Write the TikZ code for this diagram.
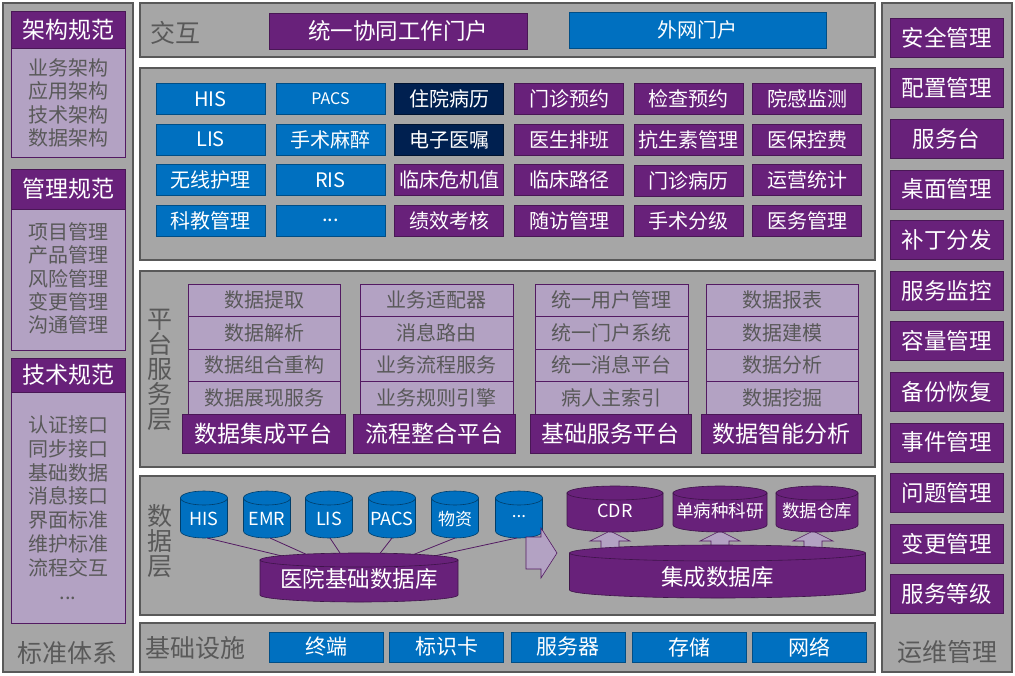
\documentclass[tikz,border=0pt]{standalone}
\usepackage{fontspec}
\setmainfont{Noto Sans CJK SC}
\definecolor{pgray}{HTML}{A6A6A6}
\definecolor{pborder}{HTML}{595959}
\definecolor{ppurple}{HTML}{68217A}
\definecolor{plight}{HTML}{B3A2C3}
\definecolor{pblue}{HTML}{0070C0}
\definecolor{pnavy}{HTML}{002050}
\definecolor{ptext}{HTML}{595959}
\newcommand{\pfs}[1]{\fontsize{#1}{#1}\selectfont}
% cx, top-ellipse y, bottom-arc y, rx, ry, style
\newcommand{\drawcyl}[6]{%
  \filldraw[#6] (#1-#4,#2) -- (#1-#4,#3) arc[start angle=180,end angle=0,x radius=#4,y radius=#5] -- (#1+#4,#2) -- cycle;
  \filldraw[#6] (#1,#2) ellipse[x radius=#4,y radius=#5];}
\newcommand{\uparr}[1]{%
  \filldraw[blockarr] (#1,531) -- ++(20,10) -- ++(-11,0) -- ++(0,11) -- ++(-18,0) -- ++(0,-11) -- ++(-11,0) -- cycle;}
\tikzset{
  panel/.style={draw=pborder, fill=pgray, line width=1.2pt},
  cbox/.style={minimum width=109, minimum height=31, inner sep=0pt, text=white, font=\pfs{20}},
  bluebox/.style={cbox, fill=pblue, draw=pblue!70!black, line width=.6pt},
  navybox/.style={cbox, fill=pnavy, draw=pnavy!60!black, line width=.6pt},
  purpbox/.style={cbox, fill=ppurple, draw=ppurple!70!black, line width=.6pt},
  itembox/.style={fill=plight, draw=ppurple!80!black, line width=.6pt, text=ptext, inner sep=0pt, font=\pfs{20}, minimum height=32.5},
  headbox/.style={fill=ppurple, draw=ppurple!70!black, line width=.6pt, text=white, inner sep=0pt},
  graylabel/.style={text=ptext, font=\pfs{25}, inner sep=0pt},
  vlabel/.style={text=ptext, font=\fontsize{25}{25}\selectfont, inner sep=0pt, align=center},
  listtext/.style={text=ptext, font=\fontsize{20}{23.4}\selectfont, inner sep=0pt, align=center},
  bluecyl/.style={fill=pblue, draw=pblue!55!black, line width=.6pt},
  purpcyl/.style={fill=ppurple, draw=ppurple!60!black, line width=.6pt},
  blockarr/.style={fill=plight, draw=ppurple!80!black, line width=.6pt},
  link/.style={draw=ppurple!80!black, line width=.8pt},
  cyltext/.style={text=white, inner sep=0pt},
  rbox/.style={fill=ppurple, draw=ppurple!70!black, line width=.6pt, text=white, inner sep=0pt, minimum width=113, minimum height=39, font=\pfs{22.5}},
  basebox/.style={fill=pblue, draw=pblue!70!black, line width=.6pt, text=white, inner sep=0pt, minimum width=114, minimum height=30, font=\pfs{21}}
}
\begin{document}
\begin{tikzpicture}[x=1pt,y=-1pt]
\useasboundingbox (0,0) rectangle (1015,675);
\fill[white] (0,0) rectangle (1015,675);

% ---------- panels ----------
\draw[panel] (3,3) rectangle (133,672);
\draw[panel] (140,3) rectangle (875,57);
\draw[panel] (140,68) rectangle (875,260);
\draw[panel] (140,271) rectangle (875,467);
\draw[panel] (140,476) rectangle (875,615);
\draw[panel] (140,623) rectangle (875,672);
\draw[panel] (882,3) rectangle (1012,672);

% ---------- left column ----------
\node[itembox, minimum width=114, minimum height=109] (lb1) at (68,102.5) {};
\node[headbox, minimum width=114, minimum height=37, font=\pfs{23}] (lh1) at (68,29.5) {架构规范};
\node[listtext] (lt1) at (68,103) {业务架构\\应用架构\\技术架构\\数据架构};
\node[itembox, minimum width=114, minimum height=141] (lb2) at (68,279.5) {};
\node[headbox, minimum width=114, minimum height=40, font=\pfs{23}] (lh2) at (68,189) {管理规范};
\node[listtext] (lt2) at (68,278.5) {项目管理\\产品管理\\风险管理\\变更管理\\沟通管理};
\node[itembox, minimum width=114, minimum height=231] (lb3) at (68,507.5) {};
\node[headbox, minimum width=114, minimum height=34, font=\pfs{23}] (lh3) at (68,375) {技术规范};
\node[listtext, font=\fontsize{20}{23.8}\selectfont] (lt3) at (68,507.5) {认证接口\\同步接口\\基础数据\\消息接口\\界面标准\\维护标准\\流程交互\\...};
\node[graylabel] (lstd) at (67,653) {标准体系};

% ---------- top: interaction ----------
\node[graylabel] (ljh) at (175,33) {交互};
\node[purpbox, minimum width=258, minimum height=36, font=\pfs{22.5}] (portal1) at (398,31) {统一协同工作门户};
\node[bluebox, minimum width=257, minimum height=36] (portal2) at (697.5,30) {外网门户};

% ---------- application grid ----------
\node[bluebox] (a11) at (210.5,99) {HIS};
\node[bluebox, font=\pfs{16}] (a12) at (330.5,99) {PACS};
\node[navybox] (a13) at (449,99) {住院病历};
\node[purpbox] (a14) at (569,99) {门诊预约};
\node[purpbox] (a15) at (688.5,99) {检查预约};
\node[purpbox] (a16) at (807,99) {院感监测};
\node[bluebox] (a21) at (210.5,139.5) {LIS};
\node[bluebox] (a22) at (330.5,139.5) {手术麻醉};
\node[navybox] (a23) at (449,139.5) {电子医嘱};
\node[purpbox] (a24) at (569,139.5) {医生排班};
\node[purpbox] (a25) at (688.5,139.5) {抗生素管理};
\node[purpbox] (a26) at (807,139.5) {医保控费};
\node[bluebox] (a31) at (210.5,180) {无线护理};
\node[bluebox] (a32) at (330.5,180) {RIS};
\node[purpbox] (a33) at (449,180) {临床危机值};
\node[purpbox] (a34) at (569,180) {临床路径};
\node[purpbox] (a35) at (688.5,181) {门诊病历};
\node[purpbox] (a36) at (807,180) {运营统计};
\node[bluebox] (a41) at (210.5,220.5) {科教管理};
\node[bluebox] (a42) at (330.5,220.5) {...};
\node[purpbox] (a43) at (449,220.5) {绩效考核};
\node[purpbox] (a44) at (569,220.5) {随访管理};
\node[purpbox] (a45) at (688.5,220.5) {手术分级};
\node[purpbox] (a46) at (807,220.5) {医务管理};

% ---------- platform service layer ----------
\node[vlabel] (lpt) at (160,370) {平\\台\\服\\务\\层};
\foreach \cx/\w/\nm [count=\c] in {264/152/p1, 436.5/153/p2, 611.5/153/p3, 782/152/p4} {
  \foreach \cy [count=\r] in {300.25, 332.75, 365.25, 397.75} {
    \node[itembox, minimum width=\w] (\nm-\r) at (\cx,\cy) {};
  }
}
\node[text=ptext, font=\pfs{20}] (p1t1) at (264,300.25) {数据提取};
\node[text=ptext, font=\pfs{20}] (p1t2) at (264,332.75) {数据解析};
\node[text=ptext, font=\pfs{20}] (p1t3) at (264,365.25) {数据组合重构};
\node[text=ptext, font=\pfs{20}] (p1t4) at (264,397.75) {数据展现服务};
\node[text=ptext, font=\pfs{20}] (p2t1) at (436.5,300.25) {业务适配器};
\node[text=ptext, font=\pfs{20}] (p2t2) at (436.5,332.75) {消息路由};
\node[text=ptext, font=\pfs{20}] (p2t3) at (436.5,365.25) {业务流程服务};
\node[text=ptext, font=\pfs{20}] (p2t4) at (436.5,397.75) {业务规则引擎};
\node[text=ptext, font=\pfs{20}] (p3t1) at (611.5,300.25) {统一用户管理};
\node[text=ptext, font=\pfs{20}] (p3t2) at (611.5,332.75) {统一门户系统};
\node[text=ptext, font=\pfs{20}] (p3t3) at (611.5,365.25) {统一消息平台};
\node[text=ptext, font=\pfs{20}] (p3t4) at (611.5,397.75) {病人主索引};
\node[text=ptext, font=\pfs{20}] (p4t1) at (782,300.25) {数据报表};
\node[text=ptext, font=\pfs{20}] (p4t2) at (782,332.75) {数据建模};
\node[text=ptext, font=\pfs{20}] (p4t3) at (782,365.25) {数据分析};
\node[text=ptext, font=\pfs{20}] (p4t4) at (782,397.75) {数据挖掘};
\node[headbox, minimum width=163, minimum height=39, font=\pfs{23}] (ph1) at (263.5,433.5) {数据集成平台};
\node[headbox, minimum width=162, minimum height=39, font=\pfs{23}] (ph2) at (434,433.5) {流程整合平台};
\node[headbox, minimum width=161, minimum height=39, font=\pfs{23}] (ph3) at (610.5,433.5) {基础服务平台};
\node[headbox, minimum width=160, minimum height=39, font=\pfs{23}] (ph4) at (781,433.5) {数据智能分析};

% ---------- data layer ----------
\node[vlabel] (lsj) at (160,541) {数\\据\\层};
\drawcyl{204}{498}{531}{23.5}{7}{bluecyl}
\drawcyl{267}{498}{531}{23.5}{7}{bluecyl}
\drawcyl{329}{498}{531}{23.5}{7}{bluecyl}
\drawcyl{392}{498}{531}{23.5}{7}{bluecyl}
\drawcyl{455}{498}{531}{23.5}{7}{bluecyl}
\drawcyl{519}{498}{531}{23.5}{7}{bluecyl}
\node[cyltext, font=\pfs{18}] (c1) at (204,519) {HIS};
\node[cyltext, font=\pfs{18}] (c2) at (267,519) {EMR};
\node[cyltext, font=\pfs{18}] (c3) at (329,519) {LIS};
\node[cyltext, font=\pfs{18}] (c4) at (392,519) {PACS};
\node[cyltext, font=\pfs{17}] (c5) at (455,519) {物资};
\node[cyltext, font=\pfs{17}] (c6) at (519,517) {...};
\coordinate (c1b) at (207,538);
\coordinate (c2b) at (270,538);
\coordinate (c3b) at (330,538);
\coordinate (c4b) at (392,538);
\coordinate (c5b) at (455,538);
\coordinate (c6b) at (517,538);
\coordinate (d1) at (282,556);
\coordinate (d2) at (310,556);
\coordinate (d3) at (342,556);
\coordinate (d4) at (378,556);
\coordinate (d5) at (410,556);
\coordinate (d6) at (434,556);
\draw[link] (c1b) -- (d1);
\draw[link] (c2b) -- (d2);
\draw[link] (c3b) -- (d3);
\draw[link] (c4b) -- (d4);
\draw[link] (c5b) -- (d5);
\draw[link] (c6b) -- (d6);
\drawcyl{359}{560}{595}{99}{7}{purpcyl}
\node[cyltext, font=\pfs{22.5}] (db1) at (359,579) {医院基础数据库};

\filldraw[blockarr] (526,537) -- (541,537) -- (541,528) -- (557,553) -- (541,578) -- (541,569) -- (526,569) -- cycle;

\uparr{610}
\uparr{720}
\uparr{813}
\drawcyl{615}{493}{525}{48}{7}{purpcyl}
\drawcyl{720}{493}{525}{47}{7}{purpcyl}
\drawcyl{817}{493}{525}{41}{7}{purpcyl}
\node[cyltext, font=\pfs{18}] (r1) at (615,511) {CDR};
\node[cyltext, font=\pfs{17.5}] (r2) at (720,511) {单病种科研};
\node[cyltext, font=\pfs{17.5}] (r3) at (817,511) {数据仓库};
\drawcyl{717.5}{553}{590}{148}{8}{purpcyl}
\node[cyltext, font=\pfs{22.5}] (db2) at (717.5,577) {集成数据库};

% ---------- infrastructure ----------
\node[graylabel] (ljc) at (195,648) {基础设施};
\node[basebox] (b1) at (326,647) {终端};
\node[basebox] (b2) at (446.5,647) {标识卡};
\node[basebox] (b3) at (568,647) {服务器};
\node[basebox] (b4) at (689,647) {存储};
\node[basebox] (b5) at (809.5,647) {网络};

% ---------- right column ----------
\foreach \t [count=\i from 0] in {安全管理,配置管理,服务台,桌面管理,补丁分发,服务监控,容量管理,备份恢复,事件管理,问题管理,变更管理,服务等级} {
  \node[rbox] (rb\i) at (946.5,{37.5+50.6*\i}) {\t};
}
\node[graylabel] (lyw) at (947,652) {运维管理};
\end{tikzpicture}
\end{document}
